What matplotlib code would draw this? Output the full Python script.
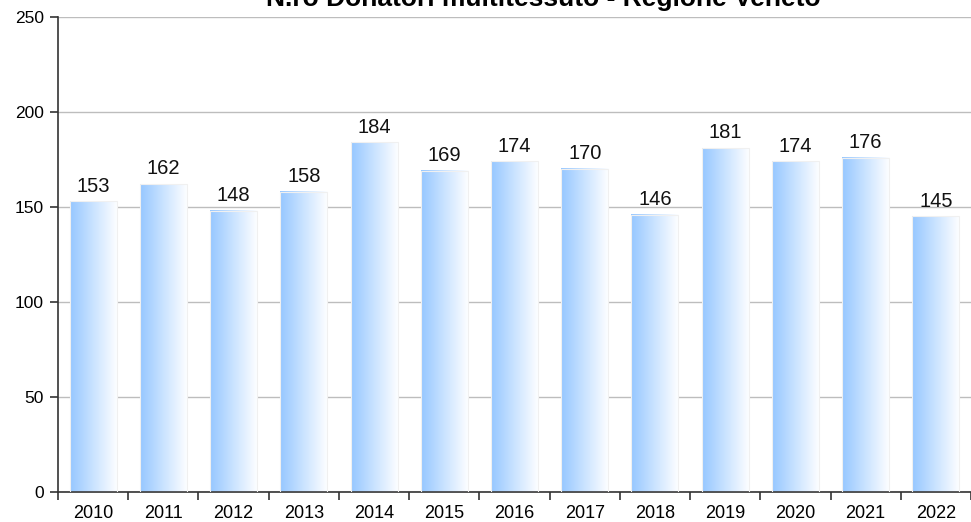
import matplotlib.pyplot as plt
import numpy as np
from matplotlib.colors import LinearSegmentedColormap

plt.rcParams['font.family'] = ['Liberation Sans', 'DejaVu Sans']

# dati
anni = ['2010', '2011', '2012', '2013', '2014', '2015', '2016',
        '2017', '2018', '2019', '2020', '2021', '2022']
donatori = [153, 162, 148, 158, 184, 169, 174, 170, 146, 181, 174, 176, 145]
y_ticks = [0, 50, 100, 150, 200, 250]
titolo = 'N.ro Donatori multitessuto - Regione Veneto'

fig = plt.figure(figsize=(9.71, 5.22), dpi=100)
ax = fig.add_axes([58 / 971, 30 / 522, 1 - 58 / 971, 475 / 522])

x = np.arange(len(anni))
larghezza = 0.67
cmap = LinearSegmentedColormap.from_list(
    'blu', [(0, '#96c7ff'), (0.45, '#c6e1ff'), (1, '#ffffff')])
grad = np.linspace(0, 1, 256).reshape(1, -1)

barre = ax.bar(x, donatori, width=larghezza, color='none', edgecolor='#f0f0f0',
               linewidth=0.8, zorder=3)
for b, v in zip(barre, donatori):
    x0 = b.get_x()
    ax.imshow(grad, cmap=cmap, aspect='auto', zorder=2,
              extent=[x0, x0 + b.get_width(), 0, v], interpolation='bicubic')
    ax.text(b.get_x() + b.get_width() / 2, v + 3, str(v), ha='center',
            va='bottom', fontsize=14.5, color='#111111')

ax.set_xlim(-0.5, len(anni) - 0.5)
ax.set_ylim(0, 250)
ax.set_yticks(y_ticks)
ax.set_yticklabels([str(t) for t in y_ticks], fontsize=12.5)
ax.yaxis.grid(True, color='#bdbdbd', linewidth=1, zorder=0)
ax.set_axisbelow(True)

# etichette x al centro, tacche ai confini
ax.set_xticks(x)
ax.set_xticklabels(anni, fontsize=13)
ax.tick_params(axis='x', length=0, pad=9)
ax.set_xticks(np.arange(-0.5, len(anni) + 0.5, 1), minor=True)
ax.tick_params(axis='x', which='minor', length=6, width=1.2, color='#333333')
ax.tick_params(axis='y', length=6, width=1.2, color='#333333', pad=4)

for s in ['top', 'right']:
    ax.spines[s].set_visible(False)
ax.spines['left'].set_color('#333333')
ax.spines['bottom'].set_color('#333333')
ax.spines['left'].set_linewidth(1.2)
ax.spines['bottom'].set_linewidth(1.2)

# il titolo è tagliato in alto come nell'originale
fig.text(543 / 971, 1 - 6 / 522, titolo, ha='center', va='baseline',
         fontsize=19, fontweight='bold')

fig.savefig('out.png', dpi=100)
